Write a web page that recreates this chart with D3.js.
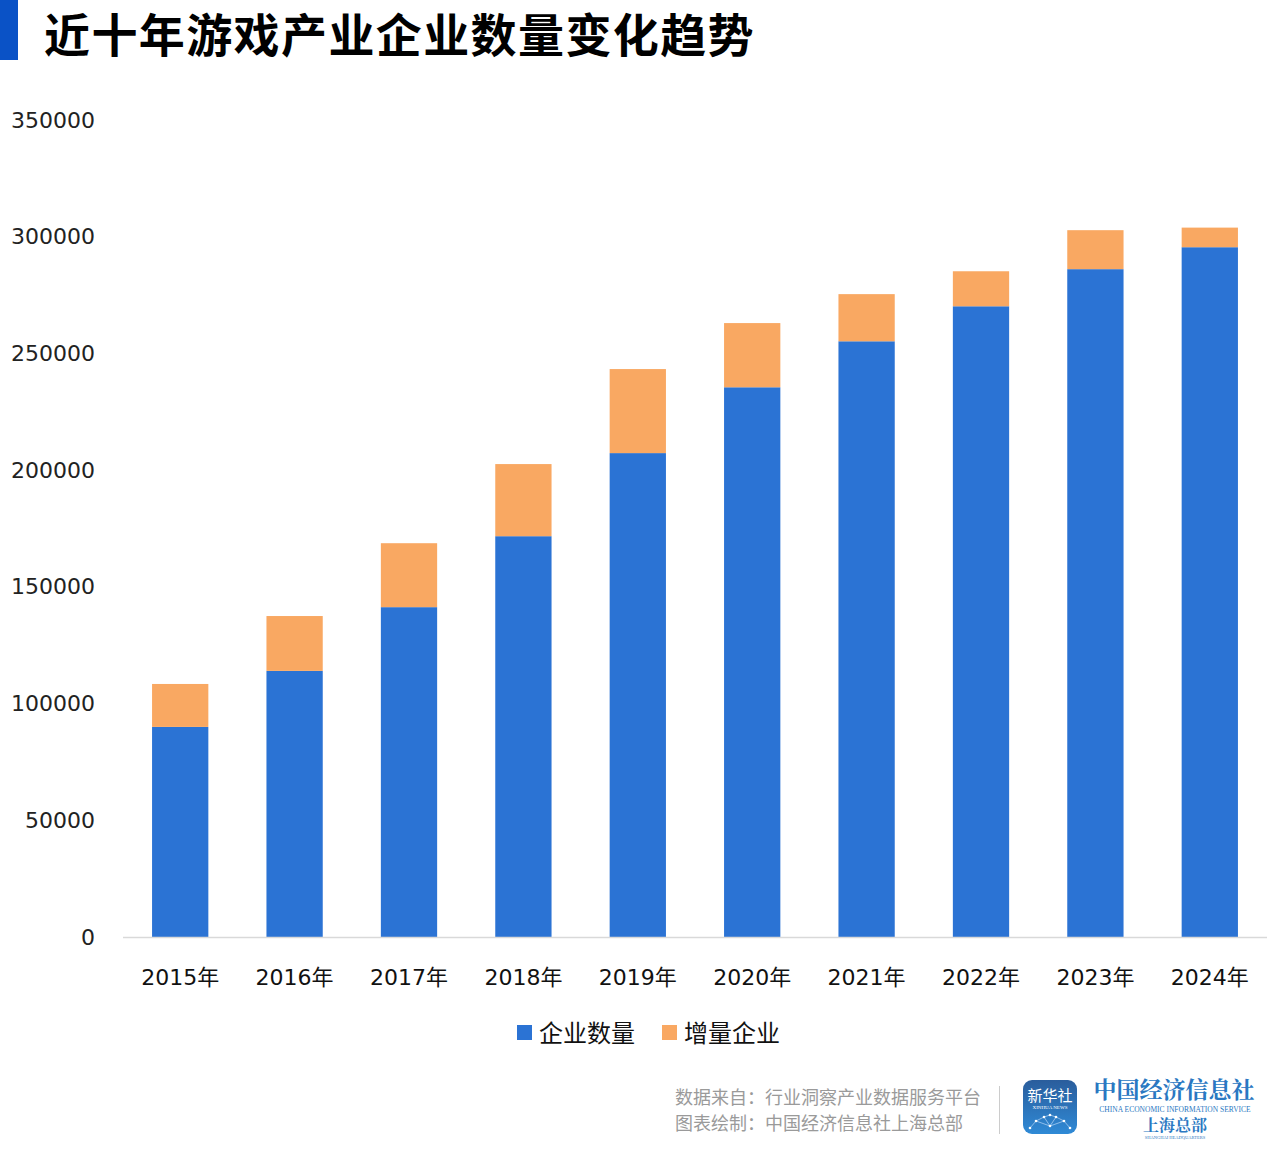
<!DOCTYPE html>
<html><head><meta charset="utf-8">
<script src="https://cdn.jsdelivr.net/npm/d3@7"></script>
<style>
html,body{margin:0;padding:0;background:#fff;}
svg{display:block;font-family:"Noto Sans CJK SC","Noto Sans",sans-serif;}
</style></head>
<body>
<svg id="chart" width="1267" height="1170"></svg>
<script>
const categories = ["2015年","2016年","2017年","2018年","2019年","2020年","2021年","2022年","2023年","2024年"];
const companyCount = [90000,114000,141300,171700,207300,235500,255200,270200,286100,295500];
const newCompanies = [18400,23500,27400,30900,36000,27500,20200,15000,16700,8400];
const yTicks = [0,50000,100000,150000,200000,250000,300000,350000];
const seriesNames = ["企业数量","增量企业"];
const colors = ["#2B73D4","#F9A862"];

const numFont = "'DejaVu Sans','Noto Sans CJK SC',sans-serif";
const svg = d3.select("#chart");
// title
svg.append("rect").attr("x",0).attr("y",0).attr("width",18).attr("height",60).attr("fill","#0A52C6");
svg.append("text").attr("x",44).attr("y",52).attr("font-size",46).attr("font-weight",700)
  .attr("letter-spacing",1.4).attr("fill","#000").text("近十年游戏产业企业数量变化趋势");

const x = d3.scaleBand().domain(categories).range([123,1267]).paddingInner(0.508).paddingOuter(0.254);
const y = d3.scaleLinear().domain([0,350000]).range([937,120]);

const data = categories.map((c,i)=>({cat:c, a:companyCount[i], b:newCompanies[i]}));
const stack = d3.stack().keys(["a","b"])(data);

const g = svg.append("g");
stack.forEach((layer,li)=>{
  g.selectAll(null).data(layer).enter().append("rect")
    .attr("x",d=>x(d.data.cat))
    .attr("width",x.bandwidth())
    .attr("y",d=>y(d[1]))
    .attr("height",d=>y(d[0])-y(d[1]))
    .attr("fill",colors[li]);
});

// axis line
svg.append("line").attr("x1",123).attr("x2",1267).attr("y1",937.5).attr("y2",937.5)
  .attr("stroke","#d9d9d9").attr("stroke-width",1.5);

// y labels
const yAxis = d3.axisLeft(y).tickValues(yTicks).tickSize(0).tickPadding(0).tickFormat(d=>String(d));
const ya = svg.append("g").attr("transform","translate(95,0)").call(yAxis);
ya.select(".domain").remove();
ya.selectAll("text").attr("font-size",22).attr("fill","#222").attr("font-family",numFont);

// x labels
const xAxis = d3.axisBottom(x).tickSize(0).tickPadding(0);
const xa = svg.append("g").attr("transform","translate(0,969)").call(xAxis);
xa.select(".domain").remove();
xa.selectAll("text").attr("font-size",22).attr("fill","#111").attr("dy","0.71em").attr("font-family",numFont);

// legend
const legendX = [517,662];
seriesNames.forEach((n,i)=>{
  svg.append("rect").attr("x",legendX[i]).attr("y",1025).attr("width",15).attr("height",15).attr("fill",colors[i]);
  svg.append("text").attr("x",legendX[i]+22).attr("y",1042).attr("font-size",24).attr("fill","#111").text(n);
});

// footer
svg.append("text").attr("x",675).attr("y",1104).attr("font-size",18).attr("fill","#9a9a9a").text("数据来自：行业洞察产业数据服务平台");
svg.append("text").attr("x",675).attr("y",1130).attr("font-size",18).attr("fill","#9a9a9a").text("图表绘制：中国经济信息社上海总部");
svg.append("line").attr("x1",999.5).attr("x2",999.5).attr("y1",1086).attr("y2",1134).attr("stroke","#cccccc").attr("stroke-width",1);

// logo
const defs = svg.append("defs");
const lg = defs.append("linearGradient").attr("id","lg").attr("x1",0).attr("y1",0).attr("x2",0).attr("y2",1);
lg.append("stop").attr("offset","0%").attr("stop-color","#2a5d9c");
lg.append("stop").attr("offset","100%").attr("stop-color","#2f8ad6");
svg.append("rect").attr("x",1023).attr("y",1080).attr("width",54).attr("height",54).attr("rx",9).attr("fill","url(#lg)");
svg.append("text").attr("x",1050).attr("y",1101).attr("text-anchor","middle").attr("font-size",15).attr("fill","#fff").text("新华社");
svg.append("text").attr("x",1050).attr("y",1109).attr("text-anchor","middle").attr("font-size",5).attr("fill","#fff").attr("font-family","'Liberation Serif',serif").text("XINHUA NEWS");
const pts = [[1030,1128],[1036,1121],[1044,1117],[1050,1126],[1056,1117],[1064,1121],[1070,1128],[1050,1115]];
[[0,1],[1,2],[2,7],[7,4],[4,5],[5,6],[1,3],[3,5],[2,3],[3,4]].forEach(([a,b])=>{
  svg.append("line").attr("x1",pts[a][0]).attr("y1",pts[a][1]).attr("x2",pts[b][0]).attr("y2",pts[b][1]).attr("stroke","#cfe6ff").attr("stroke-width",0.6);
});
pts.forEach(p=>svg.append("circle").attr("cx",p[0]).attr("cy",p[1]).attr("r",1.3).attr("fill","#fff"));

svg.append("text").attr("x",1174).attr("y",1098).attr("text-anchor","middle").attr("font-size",23).attr("font-weight",700)
  .attr("fill","#2a78c2").attr("font-family","'Noto Serif CJK SC','Noto Sans CJK SC',serif").text("中国经济信息社");
svg.append("text").attr("x",1175).attr("y",1112).attr("text-anchor","middle").attr("font-size",7.5)
  .attr("fill","#2a78c2").attr("font-family","'Liberation Serif',serif").text("CHINA ECONOMIC INFORMATION SERVICE");
svg.append("text").attr("x",1175).attr("y",1131).attr("text-anchor","middle").attr("font-size",16).attr("font-weight",700)
  .attr("fill","#2a78c2").attr("font-family","'Noto Serif CJK SC','Noto Sans CJK SC',serif").text("上海总部");
svg.append("text").attr("x",1175).attr("y",1139).attr("text-anchor","middle").attr("font-size",4.5)
  .attr("fill","#2a78c2").attr("font-family","'Liberation Serif',serif").text("SHANGHAI HEADQUARTERS");
</script>
</body></html>
